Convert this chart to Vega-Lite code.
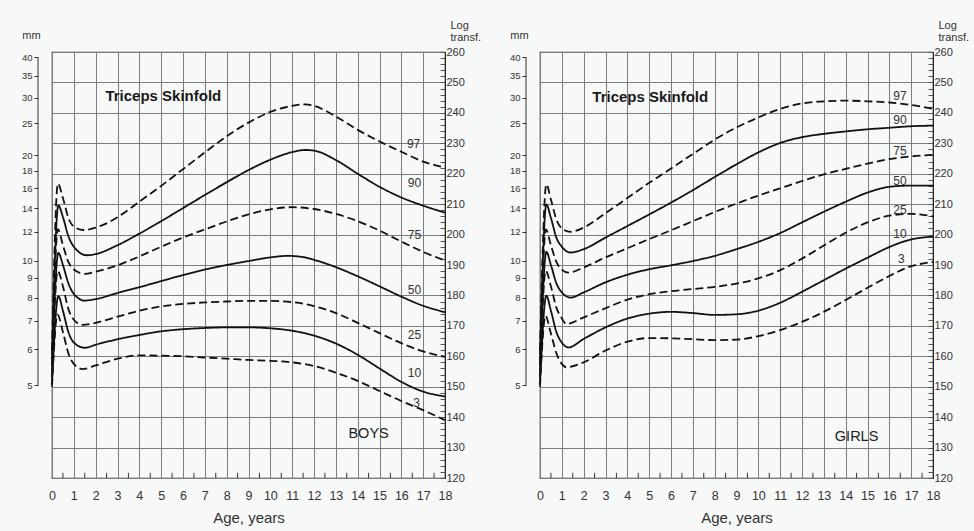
{
  "$schema": "https://vega.github.io/schema/vega-lite/v6.json",
  "background": "#f7f8f8",
  "padding": {"left": 20, "top": 18, "right": 5, "bottom": 5},
  "config": {
    "font": "Liberation Sans",
    "view": {"stroke": "#222", "strokeWidth": 1.2},
    "text": {"font": "Liberation Sans"},
    "axis": {"labelOverlap": false, "labelFlush": false, "labelBound": false}
  },
  "datasets": {
    "curves": [
      {"s":"Boys","c":97,"a":0,"t":162},{"s":"Boys","c":97,"a":0.27,"t":216.7},{"s":"Boys","c":97,"a":0.5,"t":212},{"s":"Boys","c":97,"a":0.75,"t":205.5},{"s":"Boys","c":97,"a":1,"t":202.6},{"s":"Boys","c":97,"a":1.45,"t":201.5},{"s":"Boys","c":97,"a":2,"t":202.3},{"s":"Boys","c":97,"a":2.5,"t":203.7},{"s":"Boys","c":97,"a":3,"t":205.7},{"s":"Boys","c":97,"a":4,"t":210.8},{"s":"Boys","c":97,"a":5,"t":216},{"s":"Boys","c":97,"a":6,"t":221.5},{"s":"Boys","c":97,"a":7,"t":227},{"s":"Boys","c":97,"a":8,"t":232.3},{"s":"Boys","c":97,"a":9,"t":236.8},{"s":"Boys","c":97,"a":10,"t":240.3},{"s":"Boys","c":97,"a":11,"t":242.3},{"s":"Boys","c":97,"a":11.6,"t":242.8},{"s":"Boys","c":97,"a":12,"t":242.3},{"s":"Boys","c":97,"a":13,"t":238.8},{"s":"Boys","c":97,"a":14,"t":234.4},{"s":"Boys","c":97,"a":15,"t":230.6},{"s":"Boys","c":97,"a":16,"t":227.2},{"s":"Boys","c":97,"a":17,"t":224},{"s":"Boys","c":97,"a":18,"t":222},
      {"s":"Boys","c":90,"a":0,"t":159},{"s":"Boys","c":90,"a":0.29,"t":209.6},{"s":"Boys","c":90,"a":0.5,"t":205.8},{"s":"Boys","c":90,"a":0.75,"t":199.5},{"s":"Boys","c":90,"a":1,"t":196},{"s":"Boys","c":90,"a":1.6,"t":193.2},{"s":"Boys","c":90,"a":2,"t":193.6},{"s":"Boys","c":90,"a":3,"t":196.5},{"s":"Boys","c":90,"a":4,"t":200.3},{"s":"Boys","c":90,"a":5,"t":204.4},{"s":"Boys","c":90,"a":6,"t":208.7},{"s":"Boys","c":90,"a":7,"t":213},{"s":"Boys","c":90,"a":8,"t":217.2},{"s":"Boys","c":90,"a":9,"t":221.2},{"s":"Boys","c":90,"a":10,"t":224.6},{"s":"Boys","c":90,"a":11,"t":227.1},{"s":"Boys","c":90,"a":11.6,"t":227.8},{"s":"Boys","c":90,"a":12,"t":227.6},{"s":"Boys","c":90,"a":13,"t":224.5},{"s":"Boys","c":90,"a":14,"t":220},{"s":"Boys","c":90,"a":15,"t":215.7},{"s":"Boys","c":90,"a":16,"t":212.2},{"s":"Boys","c":90,"a":17,"t":209.5},{"s":"Boys","c":90,"a":18,"t":207.2},
      {"s":"Boys","c":75,"a":0,"t":157},{"s":"Boys","c":75,"a":0.27,"t":201.8},{"s":"Boys","c":75,"a":0.5,"t":196.5},{"s":"Boys","c":75,"a":0.75,"t":191},{"s":"Boys","c":75,"a":1,"t":188.5},{"s":"Boys","c":75,"a":1.5,"t":187.1},{"s":"Boys","c":75,"a":2,"t":187.8},{"s":"Boys","c":75,"a":3,"t":189.9},{"s":"Boys","c":75,"a":4,"t":192.8},{"s":"Boys","c":75,"a":5,"t":196},{"s":"Boys","c":75,"a":6,"t":199},{"s":"Boys","c":75,"a":7,"t":201.7},{"s":"Boys","c":75,"a":8,"t":204.3},{"s":"Boys","c":75,"a":9,"t":206.6},{"s":"Boys","c":75,"a":10,"t":208.3},{"s":"Boys","c":75,"a":11,"t":209},{"s":"Boys","c":75,"a":12,"t":208.4},{"s":"Boys","c":75,"a":13,"t":206.8},{"s":"Boys","c":75,"a":14,"t":204.4},{"s":"Boys","c":75,"a":15,"t":201.3},{"s":"Boys","c":75,"a":16,"t":197.7},{"s":"Boys","c":75,"a":17,"t":194.3},{"s":"Boys","c":75,"a":18,"t":191.5},
      {"s":"Boys","c":50,"a":0,"t":155},{"s":"Boys","c":50,"a":0.29,"t":194},{"s":"Boys","c":50,"a":0.5,"t":190},{"s":"Boys","c":50,"a":0.75,"t":184},{"s":"Boys","c":50,"a":1,"t":180.5},{"s":"Boys","c":50,"a":1.5,"t":178.3},{"s":"Boys","c":50,"a":2,"t":178.8},{"s":"Boys","c":50,"a":3,"t":180.8},{"s":"Boys","c":50,"a":4,"t":182.7},{"s":"Boys","c":50,"a":5,"t":184.7},{"s":"Boys","c":50,"a":6,"t":186.7},{"s":"Boys","c":50,"a":7,"t":188.5},{"s":"Boys","c":50,"a":8,"t":190},{"s":"Boys","c":50,"a":9,"t":191.3},{"s":"Boys","c":50,"a":10,"t":192.5},{"s":"Boys","c":50,"a":10.8,"t":193},{"s":"Boys","c":50,"a":11.5,"t":192.6},{"s":"Boys","c":50,"a":12,"t":191.7},{"s":"Boys","c":50,"a":13,"t":189.3},{"s":"Boys","c":50,"a":14,"t":186.3},{"s":"Boys","c":50,"a":15,"t":183},{"s":"Boys","c":50,"a":16,"t":179.6},{"s":"Boys","c":50,"a":17,"t":176.6},{"s":"Boys","c":50,"a":18,"t":174.5},
      {"s":"Boys","c":25,"a":0,"t":153},{"s":"Boys","c":25,"a":0.26,"t":188},{"s":"Boys","c":25,"a":0.5,"t":183},{"s":"Boys","c":25,"a":0.75,"t":175.5},{"s":"Boys","c":25,"a":1,"t":172},{"s":"Boys","c":25,"a":1.4,"t":170.3},{"s":"Boys","c":25,"a":2,"t":171},{"s":"Boys","c":25,"a":3,"t":173},{"s":"Boys","c":25,"a":4,"t":175},{"s":"Boys","c":25,"a":5,"t":176.4},{"s":"Boys","c":25,"a":6,"t":177.2},{"s":"Boys","c":25,"a":7,"t":177.7},{"s":"Boys","c":25,"a":8,"t":178},{"s":"Boys","c":25,"a":9,"t":178.2},{"s":"Boys","c":25,"a":10,"t":178.2},{"s":"Boys","c":25,"a":11,"t":177.8},{"s":"Boys","c":25,"a":12,"t":176.5},{"s":"Boys","c":25,"a":13,"t":174.2},{"s":"Boys","c":25,"a":14,"t":171},{"s":"Boys","c":25,"a":15,"t":167.6},{"s":"Boys","c":25,"a":16,"t":164.3},{"s":"Boys","c":25,"a":17,"t":161.6},{"s":"Boys","c":25,"a":18,"t":159.8},
      {"s":"Boys","c":10,"a":0,"t":151},{"s":"Boys","c":10,"a":0.29,"t":179.8},{"s":"Boys","c":10,"a":0.5,"t":175},{"s":"Boys","c":10,"a":0.75,"t":168},{"s":"Boys","c":10,"a":1,"t":164.5},{"s":"Boys","c":10,"a":1.5,"t":162.8},{"s":"Boys","c":10,"a":2,"t":163.8},{"s":"Boys","c":10,"a":3,"t":165.6},{"s":"Boys","c":10,"a":4,"t":167},{"s":"Boys","c":10,"a":5,"t":168.2},{"s":"Boys","c":10,"a":6,"t":168.9},{"s":"Boys","c":10,"a":7,"t":169.3},{"s":"Boys","c":10,"a":8,"t":169.5},{"s":"Boys","c":10,"a":9,"t":169.5},{"s":"Boys","c":10,"a":10,"t":169.2},{"s":"Boys","c":10,"a":11,"t":168.4},{"s":"Boys","c":10,"a":12,"t":166.8},{"s":"Boys","c":10,"a":13,"t":164.2},{"s":"Boys","c":10,"a":14,"t":160.5},{"s":"Boys","c":10,"a":15,"t":156},{"s":"Boys","c":10,"a":16,"t":151.6},{"s":"Boys","c":10,"a":17,"t":148.4},{"s":"Boys","c":10,"a":18,"t":146.8},
      {"s":"Boys","c":3,"a":0,"t":150},{"s":"Boys","c":3,"a":0.25,"t":173.7},{"s":"Boys","c":3,"a":0.5,"t":168},{"s":"Boys","c":3,"a":0.75,"t":161},{"s":"Boys","c":3,"a":1,"t":157.5},{"s":"Boys","c":3,"a":1.4,"t":155.8},{"s":"Boys","c":3,"a":2,"t":157},{"s":"Boys","c":3,"a":3,"t":159.2},{"s":"Boys","c":3,"a":4,"t":160.3},{"s":"Boys","c":3,"a":5,"t":160.2},{"s":"Boys","c":3,"a":6,"t":160},{"s":"Boys","c":3,"a":7,"t":159.6},{"s":"Boys","c":3,"a":8,"t":159.2},{"s":"Boys","c":3,"a":9,"t":158.8},{"s":"Boys","c":3,"a":10,"t":158.5},{"s":"Boys","c":3,"a":11,"t":158},{"s":"Boys","c":3,"a":12,"t":156.8},{"s":"Boys","c":3,"a":13,"t":154.6},{"s":"Boys","c":3,"a":14,"t":151.9},{"s":"Boys","c":3,"a":15,"t":148.6},{"s":"Boys","c":3,"a":16,"t":145.3},{"s":"Boys","c":3,"a":17,"t":142.3},{"s":"Boys","c":3,"a":18,"t":139},
      {"s":"Girls","c":97,"a":0,"t":162},{"s":"Girls","c":97,"a":0.29,"t":216.5},{"s":"Girls","c":97,"a":0.5,"t":211.5},{"s":"Girls","c":97,"a":0.75,"t":205},{"s":"Girls","c":97,"a":1,"t":202},{"s":"Girls","c":97,"a":1.4,"t":200.9},{"s":"Girls","c":97,"a":2,"t":202.3},{"s":"Girls","c":97,"a":3,"t":207},{"s":"Girls","c":97,"a":4,"t":212},{"s":"Girls","c":97,"a":5,"t":217},{"s":"Girls","c":97,"a":6,"t":221.7},{"s":"Girls","c":97,"a":7,"t":226.5},{"s":"Girls","c":97,"a":8,"t":231.2},{"s":"Girls","c":97,"a":9,"t":235.2},{"s":"Girls","c":97,"a":10,"t":238.5},{"s":"Girls","c":97,"a":11,"t":241.3},{"s":"Girls","c":97,"a":12,"t":243.1},{"s":"Girls","c":97,"a":13,"t":243.8},{"s":"Girls","c":97,"a":14,"t":244},{"s":"Girls","c":97,"a":15,"t":243.8},{"s":"Girls","c":97,"a":16,"t":243.4},{"s":"Girls","c":97,"a":17,"t":242.6},{"s":"Girls","c":97,"a":18,"t":241.3},
      {"s":"Girls","c":90,"a":0,"t":159},{"s":"Girls","c":90,"a":0.29,"t":209.9},{"s":"Girls","c":90,"a":0.5,"t":205.5},{"s":"Girls","c":90,"a":0.75,"t":199},{"s":"Girls","c":90,"a":1,"t":196},{"s":"Girls","c":90,"a":1.4,"t":194.1},{"s":"Girls","c":90,"a":2,"t":195.2},{"s":"Girls","c":90,"a":3,"t":199},{"s":"Girls","c":90,"a":4,"t":202.8},{"s":"Girls","c":90,"a":5,"t":206.6},{"s":"Girls","c":90,"a":6,"t":210.5},{"s":"Girls","c":90,"a":7,"t":214.6},{"s":"Girls","c":90,"a":8,"t":218.9},{"s":"Girls","c":90,"a":9,"t":223.1},{"s":"Girls","c":90,"a":10,"t":227},{"s":"Girls","c":90,"a":11,"t":230.1},{"s":"Girls","c":90,"a":12,"t":232},{"s":"Girls","c":90,"a":13,"t":233.1},{"s":"Girls","c":90,"a":14,"t":233.9},{"s":"Girls","c":90,"a":15,"t":234.6},{"s":"Girls","c":90,"a":16,"t":235.1},{"s":"Girls","c":90,"a":17,"t":235.6},{"s":"Girls","c":90,"a":18,"t":235.8},
      {"s":"Girls","c":75,"a":0,"t":157},{"s":"Girls","c":75,"a":0.27,"t":201.7},{"s":"Girls","c":75,"a":0.5,"t":196.5},{"s":"Girls","c":75,"a":0.75,"t":191},{"s":"Girls","c":75,"a":1,"t":188.5},{"s":"Girls","c":75,"a":1.3,"t":187.5},{"s":"Girls","c":75,"a":2,"t":189.2},{"s":"Girls","c":75,"a":3,"t":192.5},{"s":"Girls","c":75,"a":4,"t":195.5},{"s":"Girls","c":75,"a":5,"t":198.5},{"s":"Girls","c":75,"a":6,"t":201.4},{"s":"Girls","c":75,"a":7,"t":204.4},{"s":"Girls","c":75,"a":8,"t":207.4},{"s":"Girls","c":75,"a":9,"t":210.2},{"s":"Girls","c":75,"a":10,"t":212.8},{"s":"Girls","c":75,"a":11,"t":215.2},{"s":"Girls","c":75,"a":12,"t":217.6},{"s":"Girls","c":75,"a":13,"t":219.8},{"s":"Girls","c":75,"a":14,"t":221.6},{"s":"Girls","c":75,"a":15,"t":223.3},{"s":"Girls","c":75,"a":16,"t":224.8},{"s":"Girls","c":75,"a":17,"t":225.7},{"s":"Girls","c":75,"a":18,"t":226.2},
      {"s":"Girls","c":50,"a":0,"t":155},{"s":"Girls","c":50,"a":0.29,"t":194.3},{"s":"Girls","c":50,"a":0.5,"t":190},{"s":"Girls","c":50,"a":0.75,"t":184},{"s":"Girls","c":50,"a":1,"t":181},{"s":"Girls","c":50,"a":1.4,"t":179.3},{"s":"Girls","c":50,"a":2,"t":181},{"s":"Girls","c":50,"a":3,"t":184.3},{"s":"Girls","c":50,"a":4,"t":186.8},{"s":"Girls","c":50,"a":5,"t":188.6},{"s":"Girls","c":50,"a":6,"t":189.9},{"s":"Girls","c":50,"a":7,"t":191.3},{"s":"Girls","c":50,"a":8,"t":193},{"s":"Girls","c":50,"a":9,"t":195.2},{"s":"Girls","c":50,"a":10,"t":197.6},{"s":"Girls","c":50,"a":11,"t":200.5},{"s":"Girls","c":50,"a":12,"t":204},{"s":"Girls","c":50,"a":13,"t":207.5},{"s":"Girls","c":50,"a":14,"t":210.8},{"s":"Girls","c":50,"a":15,"t":213.8},{"s":"Girls","c":50,"a":16,"t":215.7},{"s":"Girls","c":50,"a":17,"t":216.1},{"s":"Girls","c":50,"a":18,"t":216.1},
      {"s":"Girls","c":25,"a":0,"t":153},{"s":"Girls","c":25,"a":0.26,"t":188.1},{"s":"Girls","c":25,"a":0.5,"t":183},{"s":"Girls","c":25,"a":0.75,"t":176},{"s":"Girls","c":25,"a":1,"t":172.5},{"s":"Girls","c":25,"a":1.2,"t":170.6},{"s":"Girls","c":25,"a":2,"t":172.8},{"s":"Girls","c":25,"a":3,"t":175.8},{"s":"Girls","c":25,"a":4,"t":178.6},{"s":"Girls","c":25,"a":5,"t":180.4},{"s":"Girls","c":25,"a":6,"t":181.4},{"s":"Girls","c":25,"a":7,"t":182.1},{"s":"Girls","c":25,"a":8,"t":182.8},{"s":"Girls","c":25,"a":9,"t":183.9},{"s":"Girls","c":25,"a":10,"t":185.6},{"s":"Girls","c":25,"a":11,"t":188.3},{"s":"Girls","c":25,"a":12,"t":192.1},{"s":"Girls","c":25,"a":13,"t":196.4},{"s":"Girls","c":25,"a":14,"t":200.6},{"s":"Girls","c":25,"a":15,"t":204},{"s":"Girls","c":25,"a":16,"t":206.2},{"s":"Girls","c":25,"a":17,"t":206.8},{"s":"Girls","c":25,"a":18,"t":206},
      {"s":"Girls","c":10,"a":0,"t":151},{"s":"Girls","c":10,"a":0.29,"t":179.9},{"s":"Girls","c":10,"a":0.5,"t":175},{"s":"Girls","c":10,"a":0.75,"t":168},{"s":"Girls","c":10,"a":1,"t":164.5},{"s":"Girls","c":10,"a":1.3,"t":162.9},{"s":"Girls","c":10,"a":2,"t":165.7},{"s":"Girls","c":10,"a":3,"t":169.5},{"s":"Girls","c":10,"a":4,"t":172.4},{"s":"Girls","c":10,"a":5,"t":174},{"s":"Girls","c":10,"a":6,"t":174.6},{"s":"Girls","c":10,"a":7,"t":174.2},{"s":"Girls","c":10,"a":8,"t":173.6},{"s":"Girls","c":10,"a":9,"t":173.8},{"s":"Girls","c":10,"a":10,"t":175},{"s":"Girls","c":10,"a":11,"t":177.6},{"s":"Girls","c":10,"a":12,"t":181.2},{"s":"Girls","c":10,"a":13,"t":185},{"s":"Girls","c":10,"a":14,"t":188.8},{"s":"Girls","c":10,"a":15,"t":192.4},{"s":"Girls","c":10,"a":16,"t":195.9},{"s":"Girls","c":10,"a":17,"t":198.4},{"s":"Girls","c":10,"a":18,"t":199.3},
      {"s":"Girls","c":3,"a":0,"t":150},{"s":"Girls","c":3,"a":0.25,"t":173.3},{"s":"Girls","c":3,"a":0.5,"t":167.5},{"s":"Girls","c":3,"a":0.75,"t":161},{"s":"Girls","c":3,"a":1,"t":157.5},{"s":"Girls","c":3,"a":1.2,"t":156.4},{"s":"Girls","c":3,"a":2,"t":158},{"s":"Girls","c":3,"a":3,"t":161.9},{"s":"Girls","c":3,"a":4,"t":164.8},{"s":"Girls","c":3,"a":5,"t":166},{"s":"Girls","c":3,"a":6,"t":165.9},{"s":"Girls","c":3,"a":7,"t":165.6},{"s":"Girls","c":3,"a":8,"t":165.3},{"s":"Girls","c":3,"a":9,"t":165.5},{"s":"Girls","c":3,"a":10,"t":166.6},{"s":"Girls","c":3,"a":11,"t":168.6},{"s":"Girls","c":3,"a":12,"t":171.3},{"s":"Girls","c":3,"a":13,"t":174.6},{"s":"Girls","c":3,"a":14,"t":178.5},{"s":"Girls","c":3,"a":15,"t":182.5},{"s":"Girls","c":3,"a":16,"t":186.4},{"s":"Girls","c":3,"a":17,"t":189.6},{"s":"Girls","c":3,"a":18,"t":191}
    ],
    "labels": [
      {"s":"Boys","c":97,"a":16.56,"t":229.8},{"s":"Boys","c":90,"a":16.6,"t":217},{"s":"Boys","c":75,"a":16.6,"t":199.9},{"s":"Boys","c":50,"a":16.6,"t":181.8},{"s":"Boys","c":25,"a":16.6,"t":166.9},{"s":"Boys","c":10,"a":16.6,"t":154.4},{"s":"Boys","c":3,"a":16.7,"t":144.5},
      {"s":"Girls","c":97,"a":16.49,"t":245.7},{"s":"Girls","c":90,"a":16.49,"t":237.5},{"s":"Girls","c":75,"a":16.49,"t":227.6},{"s":"Girls","c":50,"a":16.49,"t":217.7},{"s":"Girls","c":25,"a":16.49,"t":208.2},{"s":"Girls","c":10,"a":16.49,"t":200.1},{"s":"Girls","c":3,"a":16.55,"t":191.9}
    ],
    "halfyears": [{"h":0.5},{"h":1.5},{"h":2.5},{"h":3.5},{"h":4.5},{"h":5.5},{"h":6.5},{"h":7.5},{"h":8.5},{"h":9.5},{"h":10.5},{"h":11.5},{"h":12.5},{"h":13.5},{"h":14.5},{"h":15.5},{"h":16.5},{"h":17.5}]
  },
  "spacing": 26,
  "hconcat": [
    {
      "width": 393, "height": 426,
      "layer": [
        {
          "data": {"name": "curves"},
          "transform": [{"filter": "datum.s === 'Boys'"}],
          "mark": {"type": "line", "interpolate": "monotone", "color": "#111", "strokeWidth": 1.8},
          "encoding": {
            "x": {"field": "a", "type": "quantitative", "scale": {"domain": [0, 18], "nice": false},
              "axis": {"values": [0,1,2,3,4,5,6,7,8,9,10,11,12,13,14,15,16,17,18], "tickCount": 40, "format": "d",
                "grid": true, "gridColor": "#7d7d7d", "gridWidth": 1, "ticks": false,
                "domain": false,
                "labelFontSize": 12.5, "labelColor": "#333", "labelPadding": 11, "labelOverlap": false, "labelFlush": false, "labelBound": false,
                "title": "Age, years", "titleFontSize": 15, "titleFontWeight": "normal", "titleColor": "#333", "titlePadding": 9}},
            "y": {"field": "t", "type": "quantitative", "scale": {"domain": [120, 260], "nice": false, "zero": false},
              "axis": {"orient": "right", "values": [120,122,124,126,128,130,132,134,136,138,140,142,144,146,148,150,152,154,156,158,160,162,164,166,168,170,172,174,176,178,180,182,184,186,188,190,192,194,196,198,200,202,204,206,208,210,212,214,216,218,220,222,224,226,228,230,232,234,236,238,240,242,244,246,248,250,252,254,256,258,260], "tickCount": 80,
                "labelExpr": "datum.value % 10 === 0 ? datum.label : ''",
                "grid": true, "gridColor": "#7d7d7d", "gridWidth": 1,
                "gridOpacity": {"condition": {"test": "datum.value % 10 === 0", "value": 1}, "value": 0},
                "tickSize": -5, "tickColor": "#555", "domain": true, "domainColor": "#222",
                "labelFontSize": 11, "labelColor": "#333", "labelPadding": 6, "labelOverlap": false, "labelBound": false, "labelFlush": false,
                "title": ["Log", "transf."], "titleAngle": 0, "titleAlign": "left", "titleBaseline": "top", "titleX": 5, "titleY": -33, "titleFontSize": 11, "titleFontWeight": "normal", "titleColor": "#333", "titleLineHeight": 12}},
            "detail": {"field": "c", "type": "nominal"},
            "strokeDash": {"field": "c", "type": "nominal", "scale": {"domain": [3,10,25,50,75,90,97], "range": [[8,4],[1,0],[8,4],[1,0],[8,4],[1,0],[8,4]]}, "legend": null}
          }
        },
        {
          "data": {"name": "halfyears"},
          "mark": {"type": "rule", "color": "#333", "strokeWidth": 1},
          "encoding": {
            "x": {"field": "h", "type": "quantitative"},
            "y": {"datum": 120, "type": "quantitative", "axis": null},
            "y2": {"datum": 121.7}
          }
        },
        {
          "data": {"values": [{}]},
          "mark": {"type": "rule", "color": "#333", "strokeWidth": 1},
          "encoding": {
            "x": {"datum": -0.64, "type": "quantitative"},
            "y": {"datum": 258.206, "type": "quantitative",
              "axis": {"orient": "left", "values": [150.515,162.325,171.6,179.239,185.733,191.381,200.86,208.636,215.229,220.952,226.007,236.549,245.025,252.114,258.206], "tickCount": 40,
                "labelExpr": "format(pow(10, (datum.value - 100) / 100) + 1.8, '.0f')",
                "offset": 14, "domain": false, "grid": false, "tickSize": 4, "tickColor": "#333",
                "labelFontSize": 9.5, "labelPadding": 2, "labelColor": "#333", "labelOverlap": false, "labelBound": false, "labelFlush": false,
                "title": "mm", "titleAngle": 0, "titleAlign": "center", "titleBaseline": "middle", "titleX": -7, "titleY": -17, "titleFontSize": 11, "titleFontWeight": "normal", "titleColor": "#333"}},
            "y2": {"datum": 150.515}
          }
        },
        {
          "data": {"values": [{}]},
          "mark": {"type": "text", "text": "Triceps Skinfold", "fontSize": 15, "fontWeight": "bold", "color": "#1a1a1a", "align": "center", "baseline": "middle"},
          "encoding": {"x": {"datum": 5.1, "type": "quantitative"}, "y": {"datum": 245.7, "type": "quantitative", "axis": null}}
        },
        {
          "data": {"values": [{}]},
          "mark": {"type": "text", "text": "BOYS", "fontSize": 14.5, "color": "#222", "align": "center", "baseline": "middle"},
          "encoding": {"x": {"datum": 14.5, "type": "quantitative"}, "y": {"datum": 134.3, "type": "quantitative", "axis": null}}
        },
        {
          "data": {"name": "labels"},
          "transform": [{"filter": "datum.s === 'Boys'"}],
          "mark": {"type": "text", "fontSize": 12, "color": "#333", "align": "center", "baseline": "middle"},
          "encoding": {"x": {"field": "a", "type": "quantitative"}, "y": {"field": "t", "type": "quantitative", "axis": null}, "text": {"field": "c", "type": "nominal"}}
        }
      ],
      "resolve": {"axis": {"y": "independent"}}
    },
    {
      "width": 393, "height": 426,
      "layer": [
        {
          "data": {"name": "curves"},
          "transform": [{"filter": "datum.s === 'Girls'"}],
          "mark": {"type": "line", "interpolate": "monotone", "color": "#111", "strokeWidth": 1.8},
          "encoding": {
            "x": {"field": "a", "type": "quantitative", "scale": {"domain": [0, 18], "nice": false},
              "axis": {"values": [0,1,2,3,4,5,6,7,8,9,10,11,12,13,14,15,16,17,18], "tickCount": 40, "format": "d",
                "grid": true, "gridColor": "#7d7d7d", "gridWidth": 1, "ticks": false,
                "domain": false,
                "labelFontSize": 12.5, "labelColor": "#333", "labelPadding": 11, "labelOverlap": false, "labelFlush": false, "labelBound": false,
                "title": "Age, years", "titleFontSize": 15, "titleFontWeight": "normal", "titleColor": "#333", "titlePadding": 9}},
            "y": {"field": "t", "type": "quantitative", "scale": {"domain": [120, 260], "nice": false, "zero": false},
              "axis": {"orient": "right", "values": [120,122,124,126,128,130,132,134,136,138,140,142,144,146,148,150,152,154,156,158,160,162,164,166,168,170,172,174,176,178,180,182,184,186,188,190,192,194,196,198,200,202,204,206,208,210,212,214,216,218,220,222,224,226,228,230,232,234,236,238,240,242,244,246,248,250,252,254,256,258,260], "tickCount": 80,
                "labelExpr": "datum.value % 10 === 0 ? datum.label : ''",
                "grid": true, "gridColor": "#7d7d7d", "gridWidth": 1,
                "gridOpacity": {"condition": {"test": "datum.value % 10 === 0", "value": 1}, "value": 0},
                "tickSize": -5, "tickColor": "#555", "domain": true, "domainColor": "#222",
                "labelFontSize": 11, "labelColor": "#333", "labelPadding": 6, "labelOverlap": false, "labelBound": false, "labelFlush": false,
                "title": ["Log", "transf."], "titleAngle": 0, "titleAlign": "left", "titleBaseline": "top", "titleX": 5, "titleY": -33, "titleFontSize": 11, "titleFontWeight": "normal", "titleColor": "#333", "titleLineHeight": 12}},
            "detail": {"field": "c", "type": "nominal"},
            "strokeDash": {"field": "c", "type": "nominal", "scale": {"domain": [3,10,25,50,75,90,97], "range": [[8,4],[1,0],[8,4],[1,0],[8,4],[1,0],[8,4]]}, "legend": null}
          }
        },
        {
          "data": {"name": "halfyears"},
          "mark": {"type": "rule", "color": "#333", "strokeWidth": 1},
          "encoding": {
            "x": {"field": "h", "type": "quantitative"},
            "y": {"datum": 120, "type": "quantitative", "axis": null},
            "y2": {"datum": 121.7}
          }
        },
        {
          "data": {"values": [{}]},
          "mark": {"type": "rule", "color": "#333", "strokeWidth": 1},
          "encoding": {
            "x": {"datum": -0.64, "type": "quantitative"},
            "y": {"datum": 258.206, "type": "quantitative",
              "axis": {"orient": "left", "values": [150.515,162.325,171.6,179.239,185.733,191.381,200.86,208.636,215.229,220.952,226.007,236.549,245.025,252.114,258.206], "tickCount": 40,
                "labelExpr": "format(pow(10, (datum.value - 100) / 100) + 1.8, '.0f')",
                "offset": 14, "domain": false, "grid": false, "tickSize": 4, "tickColor": "#333",
                "labelFontSize": 9.5, "labelPadding": 2, "labelColor": "#333", "labelOverlap": false, "labelBound": false, "labelFlush": false,
                "title": "mm", "titleAngle": 0, "titleAlign": "center", "titleBaseline": "middle", "titleX": -7, "titleY": -17, "titleFontSize": 11, "titleFontWeight": "normal", "titleColor": "#333"}},
            "y2": {"datum": 150.515}
          }
        },
        {
          "data": {"values": [{}]},
          "mark": {"type": "text", "text": "Triceps Skinfold", "fontSize": 15, "fontWeight": "bold", "color": "#1a1a1a", "align": "center", "baseline": "middle"},
          "encoding": {"x": {"datum": 5.05, "type": "quantitative"}, "y": {"datum": 245.2, "type": "quantitative", "axis": null}}
        },
        {
          "data": {"values": [{}]},
          "mark": {"type": "text", "text": "GIRLS", "fontSize": 14.5, "color": "#222", "align": "center", "baseline": "middle"},
          "encoding": {"x": {"datum": 14.5, "type": "quantitative"}, "y": {"datum": 133.6, "type": "quantitative", "axis": null}}
        },
        {
          "data": {"name": "labels"},
          "transform": [{"filter": "datum.s === 'Girls'"}],
          "mark": {"type": "text", "fontSize": 12, "color": "#333", "align": "center", "baseline": "middle"},
          "encoding": {"x": {"field": "a", "type": "quantitative"}, "y": {"field": "t", "type": "quantitative", "axis": null}, "text": {"field": "c", "type": "nominal"}}
        }
      ],
      "resolve": {"axis": {"y": "independent"}}
    }
  ]
}
